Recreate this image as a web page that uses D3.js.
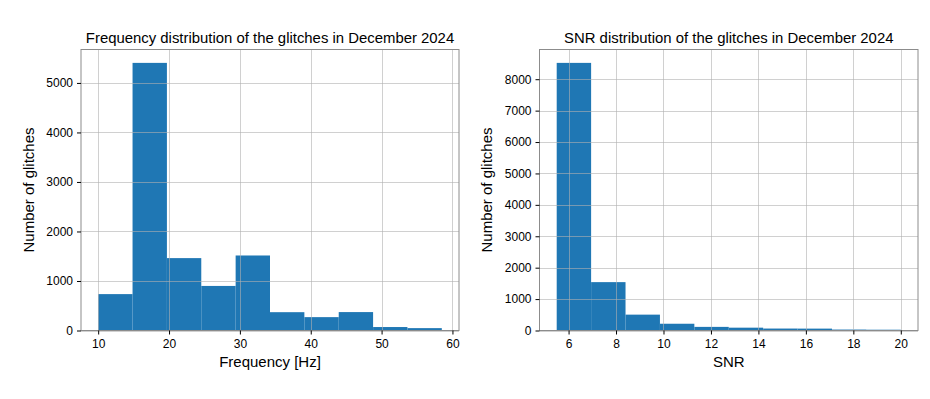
<!DOCTYPE html>
<html>
<head>
<meta charset="utf-8">
<script src="https://d3js.org/d3.v7.min.js"></script>
<style>
  body { margin: 0; background: #fff; }
  svg text { font-family: "Liberation Sans", Arial, sans-serif; fill: #000; }
</style>
</head>
<body>
<div id="chart"></div>
<script>
// Data ----------------------------------------------------------------------->

// Frequency histogram (Hz): bin edges and counts
const freq_edges = [10, 14.85, 19.7, 24.55, 29.4, 34.25, 39.1, 43.95, 48.8, 53.65, 58.5];
const freq_counts = [735, 5405, 1462, 900, 1515, 370, 270, 372, 70, 48];
const freq_xticks = [10, 20, 30, 40, 50, 60];
const freq_yticks = [0, 1000, 2000, 3000, 4000, 5000];

// SNR histogram: bin edges and counts
const snr_edges = [5.5, 6.95, 8.4, 9.85, 11.3, 12.75, 14.2, 15.65, 17.1, 18.55, 20];
const snr_counts = [8520, 1540, 505, 215, 115, 90, 62, 60, 30, 25];
const snr_xticks = [6, 8, 10, 12, 14, 16, 18, 20];
const snr_yticks = [0, 1000, 2000, 3000, 4000, 5000, 6000, 7000, 8000];

// Setup ---------------------------------------------------------------------->

const width = 930, height = 399;
const svg = d3.select('#chart')
  .append('svg')
    .attr('width', width)
    .attr('height', height);

const bar_color = '#1f77b4';

// Draw one histogram panel inside the box [left, right] x [top, bottom]
function draw_hist(opts){
  const {left, right, top, bottom, edges, counts, xticks, yticks, title, xlabel, ylabel, ylabel_x} = opts;

  // matplotlib-style 5% margins on x, 5% headroom on y
  const lo = edges[0], hi = edges[edges.length - 1];
  const pad = (hi - lo) * 0.05;
  const x = d3.scaleLinear().domain([lo - pad, hi + pad]).range([left, right]);
  const y = d3.scaleLinear().domain([0, d3.max(counts) * 1.05]).range([bottom, top]);

  const g = svg.append('g');

  // Bars
  const bins = counts.map((c, i) => ({x0: edges[i], x1: edges[i + 1], n: c}));
  g.append('g')
    .selectAll('rect')
    .data(bins)
    .join('rect')
      .attr('x', d => x(d.x0))
      .attr('width', d => x(d.x1) - x(d.x0))
      .attr('y', d => y(d.n))
      .attr('height', d => y(0) - y(d.n))
      .attr('fill', bar_color);

  // Grid (drawn over the bars)
  const grid = g.append('g')
    .attr('stroke', '#b0b0b0')
    .attr('stroke-opacity', 0.6)
    .attr('stroke-width', 1);
  grid.selectAll('line.v')
    .data(xticks)
    .join('line')
      .attr('class', 'v')
      .attr('x1', d => Math.round(x(d)) + 0.5)
      .attr('x2', d => Math.round(x(d)) + 0.5)
      .attr('y1', top)
      .attr('y2', bottom);
  grid.selectAll('line.h')
    .data(yticks)
    .join('line')
      .attr('class', 'h')
      .attr('y1', d => Math.round(y(d)) + 0.5)
      .attr('y2', d => Math.round(y(d)) + 0.5)
      .attr('x1', left)
      .attr('x2', right);

  // Frame
  g.append('rect')
    .attr('x', left)
    .attr('y', top)
    .attr('width', right - left)
    .attr('height', bottom - top)
    .attr('fill', 'none')
    .attr('stroke', '#8c8c8c')
    .attr('stroke-width', 1);

  // Axes
  const xaxis = g.append('g')
    .attr('transform', `translate(0,${bottom})`)
    .call(d3.axisBottom(x).tickValues(xticks).tickSize(4).tickPadding(5).tickFormat(d3.format('d')));
  const yaxis = g.append('g')
    .attr('transform', `translate(${left},0)`)
    .call(d3.axisLeft(y).tickValues(yticks).tickSize(4).tickPadding(4).tickFormat(d3.format('d')));
  [xaxis, yaxis].forEach(a => {
    a.select('.domain').remove();
    a.selectAll('.tick line').attr('stroke', '#000');
    a.selectAll('.tick text')
      .style('font-size', '12px')
      .attr('fill', '#222');
  });

  // Labels
  g.append('text')
    .attr('x', (left + right) / 2)
    .attr('y', 43)
    .attr('text-anchor', 'middle')
    .style('font-size', '14.9px')
    .text(title);
  g.append('text')
    .attr('x', (left + right) / 2)
    .attr('y', 367)
    .attr('text-anchor', 'middle')
    .style('font-size', '15px')
    .text(xlabel);
  g.append('text')
    .attr('transform', `translate(${ylabel_x},${(top + bottom) / 2}) rotate(-90)`)
    .attr('text-anchor', 'middle')
    .style('font-size', '15px')
    .text(ylabel);
}

draw_hist({
  left: 81, right: 459, top: 49.5, bottom: 330.5,
  edges: freq_edges, counts: freq_counts,
  xticks: freq_xticks, yticks: freq_yticks,
  title: 'Frequency distribution of the glitches in December 2024',
  xlabel: 'Frequency [Hz]',
  ylabel: 'Number of glitches',
  ylabel_x: 34
});

draw_hist({
  left: 539.5, right: 918, top: 49.5, bottom: 330.5,
  edges: snr_edges, counts: snr_counts,
  xticks: snr_xticks, yticks: snr_yticks,
  title: 'SNR distribution of the glitches in December 2024',
  xlabel: 'SNR',
  ylabel: 'Number of glitches',
  ylabel_x: 492
});
</script>
</body>
</html>
